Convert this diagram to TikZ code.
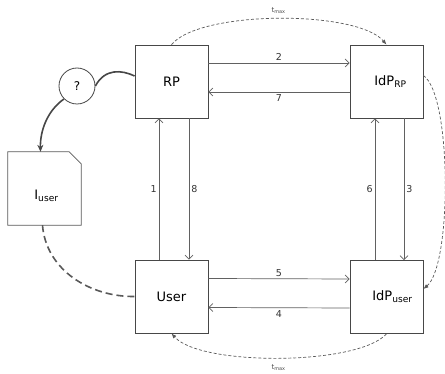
\documentclass[tikz,border=0pt]{standalone}
\usepackage{fontspec}
\setmainfont{DejaVu Sans}
\usetikzlibrary{arrows.meta}

\begin{document}
\begin{tikzpicture}[x=1pt,y=-1pt,
  box/.style={draw=black!72, line width=0.8pt, minimum size=73pt, inner sep=0pt,
              font=\fontsize{13}{15}\selectfont},
  msg/.style={draw=black!62, line width=0.7pt, -{Straight Barb[length=4pt,width=8pt]}},
  num/.style={font=\fontsize{9.5}{11}\selectfont, text=black!80, inner sep=2pt},
  tmax/.style={draw=black!65, dashed, dash pattern=on 3pt off 2pt, line width=0.7pt,
               -{Latex[length=5pt,width=4pt]}},
  tlab/.style={font=\fontsize{7}{8}\selectfont, text=black!70},
  thick link/.style={draw=black!72, line width=1.6pt},
]
\useasboundingbox (0,0) rectangle (445,374);

% parties
\node[box] (rp)    at (171.5,81.5)  {RP};
\node[box] (idprp) at (386.5,81.5)  {\hspace*{8pt}IdP\textsubscript{RP}};
\node[box] (user)  at (171.5,296.5) {User};
\node[box] (idpu)  at (386.5,297)   {\hspace*{12pt}IdP\textsubscript{user}};

% user identity document with a cut corner
\node[minimum size=73pt, inner sep=0pt,
      label={[font=\fontsize{13}{15}\selectfont, yshift=-7pt, xshift=2pt]center:I\textsubscript{user}}]
  (iu) at (44.5,188.5) {};
\draw[draw=black!65, line width=0.8pt]
  (iu.south west) -- (iu.north west) -- ([xshift=-12pt]iu.north east)
  -- ([yshift=-12pt]iu.north east) -- (iu.south east) -- cycle;

% question node
\node[circle, draw=black!72, line width=0.8pt, minimum size=36pt, inner sep=0pt,
      font=\fontsize{12}{14}\selectfont] (q) at (77,86) {?};

% protocol messages
\draw[msg] ([yshift=18.5pt]rp.east) -- node[num, above] {2} ([yshift=18.5pt]idprp.west);
\draw[msg] ([yshift=-10.5pt]idprp.west) -- node[num, below] {7} ([yshift=-10.5pt]rp.east);
\draw[msg] ([xshift=-12.5pt]user.north) -- node[num, left] {1} ([xshift=-12.5pt]rp.south);
\draw[msg] ([xshift=17.5pt]rp.south) -- node[num, right] {8} ([xshift=17.5pt]user.north);
\draw[msg] ([xshift=17.5pt]idprp.south) -- node[num, right] {3} ([xshift=17.5pt]idpu.north);
\draw[msg] ([xshift=-11.5pt]idpu.north) -- node[num, left] {6} ([xshift=-11.5pt]idprp.south);
\draw[msg] ([yshift=18pt]user.east) -- node[num, above] {5} ([yshift=18pt]idpu.west);
\draw[msg] ([yshift=-11pt]idpu.west) -- node[num, below] {4} ([yshift=-11pt]user.east);

% timeouts
\draw[tmax] (rp.north) .. controls (200,10) and (357,10) .. node[tlab, pos=0.5, above=1pt] {t\textsubscript{max}} (idprp.north);
\draw[tmax] ([yshift=6pt]idprp.east) .. controls (452,95) and (452,265) .. ([yshift=8pt]idpu.east);
\draw[tmax] (idpu.south) .. controls (357,366) and (200,366) .. node[tlab, pos=0.5, below=3pt] {t\textsubscript{max}} (user.south);

% identity lookup
\draw[thick link] ([yshift=5.5pt]rp.west) .. controls (122,70) and (105,68) .. (q.east);
\draw[thick link, -{Stealth[length=7pt,width=6pt]}] (q.south west) .. controls (48,110) and (40,130) .. ([xshift=-4pt]iu.north);
\draw[thick link, draw=black!65, dashed, dash pattern=on 7pt off 4pt] ([xshift=-2pt]iu.south) .. controls (46,270) and (90,297) .. (user.west);
\end{tikzpicture}
\end{document}
